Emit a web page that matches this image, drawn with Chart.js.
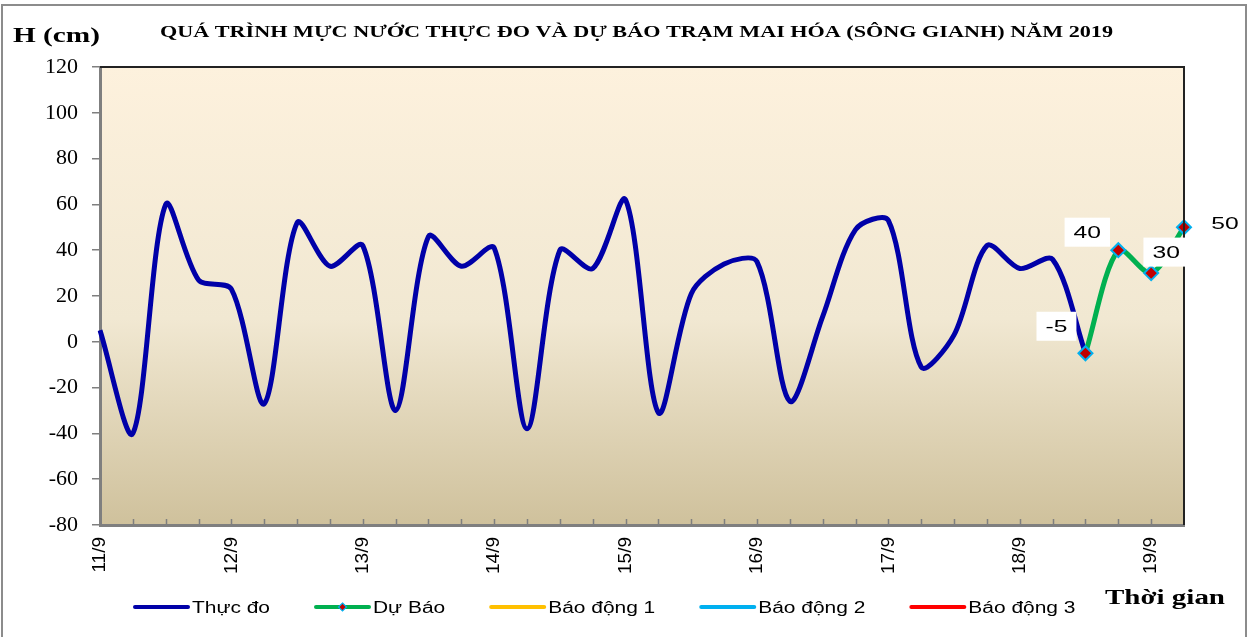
<!DOCTYPE html>
<html>
<head>
<meta charset="utf-8">
<script src="https://cdn.jsdelivr.net/npm/chart.js@4/dist/chart.umd.min.js"></script>
<style>
  html, body { margin: 0; padding: 0; background: #fff; }
  #wrap { width: 1251px; height: 637px; }
</style>
</head>
<body>
<div id="wrap"><canvas id="mucNuoc"></canvas></div>
<script>
// ngày và giờ đo (4 lần / ngày)
const days = ['11/9', '12/9', '13/9', '14/9', '15/9', '16/9', '17/9', '18/9', '19/9'];
const hours = ['1h', '7h', '13h', '19h'];

// mực nước thực đo (cm)
const thucDo = [5, -40, 60, 27, 23, -27, 52, 33, 42, -30, 46, 33, 41, -38, 40, 32,
  62, -31, 21, 34, 35, -26, 11, 49, 53, -11, 3, 42, 32, 36, -5];

// dự báo (bắt đầu từ điểm cuối của thực đo)
const duBaoStart = 30;
const duBao = [-5, 40, 30, 50];

const yTicks = { min: -80, max: 120, step: 20 };

const labels = [];
days.forEach((d, i) => {
  const n = i === days.length - 1 ? 2 : hours.length;
  for (let k = 0; k < n; k++) labels.push(d + ' ' + hours[k]);
});

function stretchText(ctx, text, x, y, sx, align) {
  ctx.save();
  ctx.translate(x, y);
  ctx.scale(sx, 1);
  ctx.textAlign = align || 'left';
  ctx.fillText(text, 0, 0);
  ctx.restore();
}

const decor = {
  id: 'decor',
  beforeDraw(chart) {
    const { ctx, chartArea: a } = chart;
    ctx.save();
    ctx.fillStyle = '#fff';
    ctx.fillRect(0, 0, chart.width, chart.height);
    const g = ctx.createLinearGradient(0, a.top, 0, a.bottom);
    g.addColorStop(0, '#FDF1DD');
    g.addColorStop(0.55, '#F1E8D2');
    g.addColorStop(1, '#CFC19C');
    ctx.fillStyle = g;
    ctx.fillRect(a.left, a.top, a.right - a.left, a.bottom - a.top);
    ctx.restore();
  },
  afterDraw(chart) {
    const { ctx, chartArea: a } = chart;
    const xs = chart.scales.x;
    ctx.save();

    // khung trên + phải
    ctx.strokeStyle = '#222';
    ctx.lineWidth = 2;
    ctx.beginPath();
    ctx.moveTo(a.left, a.top);
    ctx.lineTo(a.right, a.top);
    ctx.lineTo(a.right, a.bottom);
    ctx.stroke();

    // vạch chia trục x (hướng vào trong)
    ctx.strokeStyle = '#7f7f7f';
    ctx.lineWidth = 1.5;
    for (let i = 1; i < labels.length - 1; i++) {
      const x = Math.round(xs.getPixelForValue(i)) + 0.5;
      ctx.beginPath();
      ctx.moveTo(x, a.bottom - 6);
      ctx.lineTo(x, a.bottom);
      ctx.stroke();
    }

    // nhãn số liệu dự báo
    const meta = chart.getDatasetMeta(1);
    const offs = [[-29, -27], [-31, -18], [15, -21], [41, -4]];
    ctx.font = '17px "Liberation Sans", Arial, sans-serif';
    ctx.textBaseline = 'middle';
    meta.data.forEach((pt, i) => {
      const txt = String(duBao[i]);
      const cx = pt.x + offs[i][0], cy = pt.y + offs[i][1];
      const w = ctx.measureText(txt).width * 1.45 + 18;
      ctx.fillStyle = '#fff';
      ctx.fillRect(cx - w / 2, cy - 14.5, w, 29);
      ctx.fillStyle = '#000';
      stretchText(ctx, txt, cx, cy + 1, 1.45, 'center');
    });
    ctx.textBaseline = 'alphabetic';

    // tiêu đề
    ctx.fillStyle = '#000';
    const title = 'QUÁ TRÌNH MỰC NƯỚC THỰC ĐO VÀ DỰ BÁO TRẠM MAI HÓA (SÔNG GIANH) NĂM 2019';
    ctx.font = 'bold 16px "Liberation Serif", "Times New Roman", serif';
    stretchText(ctx, title, 160, 37, 953 / ctx.measureText(title).width);

    ctx.font = 'bold 20px "Liberation Serif", "Times New Roman", serif';
    stretchText(ctx, 'H (cm)', 13, 42, 87 / ctx.measureText('H (cm)').width);
    stretchText(ctx, 'Thời gian', 1105, 604, 120 / ctx.measureText('Thời gian').width);

    // chú thích
    ctx.font = '16px "Liberation Sans", Arial, sans-serif';
    const sx = 78 / ctx.measureText('Thực đo').width;
    let x = 133;
    const y = 607;
    chart.data.datasets.forEach((ds) => {
      ctx.strokeStyle = ds.borderColor;
      ctx.lineWidth = 4;
      ctx.lineCap = 'round';
      ctx.beginPath();
      ctx.moveTo(x + 2, y);
      ctx.lineTo(x + 55, y);
      ctx.stroke();
      if (ds.pointRadius > 0) {
        const cx = x + 28.5;
        ctx.beginPath();
        ctx.moveTo(cx, y - 4); ctx.lineTo(cx + 4, y); ctx.lineTo(cx, y + 4); ctx.lineTo(cx - 4, y);
        ctx.closePath();
        ctx.fillStyle = ds.pointBackgroundColor;
        ctx.fill();
        ctx.strokeStyle = ds.pointBorderColor;
        ctx.lineWidth = 1.2;
        ctx.stroke();
      }
      ctx.fillStyle = '#000';
      stretchText(ctx, ds.label, x + 59, y + 6, sx);
      x += 59 + ctx.measureText(ds.label).width * sx + 44;
    });

    // khung ngoài
    ctx.strokeStyle = '#8c8c8c';
    ctx.lineWidth = 2;
    ctx.strokeRect(2, 5, 1244, 640);
    ctx.restore();
  }
};

new Chart(document.getElementById('mucNuoc'), {
  type: 'line',
  data: {
    labels,
    datasets: [
      {
        label: 'Thực đo',
        data: thucDo,
        borderColor: '#0000A8',
        borderWidth: 5,
        pointRadius: 0,
        tension: 0.3,
        order: 2
      },
      {
        label: 'Dự Báo',
        data: duBao.map((v, i) => ({ x: labels[duBaoStart + i], y: v })),
        borderColor: '#00B050',
        borderWidth: 5,
        pointStyle: 'rectRot',
        pointRadius: 7,
        pointBackgroundColor: '#C00000',
        pointBorderColor: '#00B0F0',
        pointBorderWidth: 2,
        tension: 0.3,
        clip: false,
        order: 1
      },
      { label: 'Báo động 1', data: [], borderColor: '#FFC000', pointRadius: 0 },
      { label: 'Báo động 2', data: [], borderColor: '#00B0F0', pointRadius: 0 },
      { label: 'Báo động 3', data: [], borderColor: '#FF0000', pointRadius: 0 }
    ]
  },
  options: {
    responsive: true,
    maintainAspectRatio: false,
    animation: false,
    layout: { padding: { top: 67, left: 10, right: 67, bottom: 0 } },
    plugins: {
      legend: { display: false },
      title: { display: false },
      tooltip: { enabled: false }
    },
    scales: {
      x: {
        afterFit(scale) { scale.height = 112; },
        border: { display: true, color: '#7f7f7f', width: 3 },
        grid: { display: false, drawTicks: false },
        ticks: {
          autoSkip: false,
          maxRotation: 90,
          minRotation: 90,
          padding: 12,
          color: '#000',
          font: { family: '"Liberation Sans", Arial, sans-serif', size: 19 },
          callback: (v, i) => (i % hours.length === 0 ? days[i / hours.length] : '')
        }
      },
      y: {
        min: yTicks.min,
        max: yTicks.max,
        afterFit(scale) { scale.width = 90; },
        border: { display: true, color: '#7f7f7f', width: 3 },
        grid: { drawOnChartArea: false, drawTicks: true, tickLength: 8, color: '#7f7f7f', lineWidth: 1.5 },
        ticks: {
          stepSize: yTicks.step,
          padding: 14,
          color: '#000',
          font: { family: '"Liberation Serif", "Times New Roman", serif', size: 22 }
        }
      }
    }
  },
  plugins: [decor]
});
</script>
</body>
</html>
